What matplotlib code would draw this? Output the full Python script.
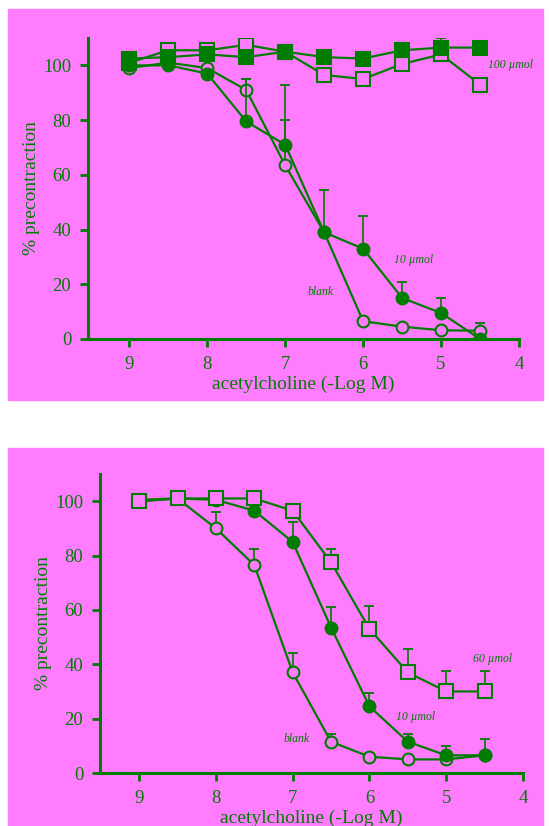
import numpy as np
import matplotlib
matplotlib.use("Agg")
import matplotlib.pyplot as plt
from matplotlib.patches import Rectangle

# acetylcholine concentration (-log M)
conc = [9, 8.5, 8, 7.5, 7, 6.5, 6, 5.5, 5, 4.5]

# top panel
top_blank = [99, 101, 99, 91, 63.5, 39, 6.5, 4.5, 3.2, 3]
top_blank_err = [0, 0, 0, 4, 16.5, 0, 0, 0, 0, 3]
top_10 = [100, 100, 97, 79.5, 71, 39, 33, 15, 9.5, 0]
top_10_err = [0, 0, 0, 15.5, 22, 15.5, 12, 6, 5.5, 0]
top_100_filled = [102.5, 103, 104, 103, 105, 103, 102.5, 105.5, 106.5, 106.5]
top_100_filled_err = [0, 0, 0, 0, 0, 0, 0, 0, 3.5, 0]
top_100_open = [101, 105.5, 105.5, 107.5, 105, 96.5, 95, 100.5, 104, 93]

# bottom panel
bot_blank = [100.5, 101, 90, 76.5, 37, 11.5, 6, 5, 5, 6.5]
bot_blank_err = [0, 0, 6, 6, 7, 3, 0, 0, 0, 0]
bot_10 = [100, 101, 100.5, 96.5, 85, 53.5, 24.5, 11.5, 6.5, 6.5]
bot_10_err = [0, 0, 0, 0, 7.5, 7.5, 5, 3, 3.5, 6]
bot_60 = [100, 101, 101, 101, 96.5, 77.5, 53, 37, 30, 30]
bot_60_err = [0, 0, 0, 0, 0, 5, 8.5, 8.5, 7.5, 7.5]

pink = '#ff7cff'
green = '#007d00'
W, H = 549, 826

plt.rcParams['font.family'] = ['Liberation Serif', 'DejaVu Serif']

fig = plt.figure(figsize=(W / 100, H / 100), dpi=100)
fig.patch.set_facecolor('white')

# pink backgrounds of the two panels
fig.patches.append(Rectangle((8 / W, (H - 400) / H), 535 / W, 391 / H,
                             transform=fig.transFigure, color=pink, zorder=-5))
fig.patches.append(Rectangle((8 / W, 0), 535 / W, 378 / H,
                             transform=fig.transFigure, color=pink, zorder=-5))


def make_axes(left, right, y0, ytop, xleft):
    ax = fig.add_axes([left / W, (H - y0) / H, (right - left) / W, (y0 - ytop) / H])
    ax.set_facecolor('none')
    ax.set_zorder(2)
    ax.set_xlim(xleft, 4)
    ax.set_ylim(0, 110)
    for s in ['top', 'right']:
        ax.spines[s].set_visible(False)
    for s in ['left', 'bottom']:
        ax.spines[s].set_color(green)
        ax.spines[s].set_linewidth(2.2)
    ax.set_xticks([9, 8, 7, 6, 5, 4])
    ax.set_yticks([0, 20, 40, 60, 80, 100])
    ax.tick_params(colors=green, direction='out', length=6, width=2,
                   labelsize=13.5, pad=6)
    ax.set_xlabel('acetylcholine (-Log M)', color=green, fontsize=14, labelpad=2)
    ax.set_ylabel('% precontraction', color=green, fontsize=14, labelpad=2)
    return ax


def series(ax, y, err, marker, face, ms):
    if err is not None:
        ax.errorbar(conc, y, yerr=[np.zeros(len(err)), err], fmt='none',
                    ecolor=green, elinewidth=1.2, capsize=3.5, capthick=1.3)
    ax.plot(conc, y, color=green, lw=1.6, marker=marker, ms=ms,
            mfc=face, mec=green, mew=1.5)


# top panel
ax1 = make_axes(88, 519, 339, 38, 9.53)
series(ax1, top_100_open, None, 's', pink, 9.5)
series(ax1, top_100_filled, top_100_filled_err, 's', green, 9.5)
series(ax1, top_blank, top_blank_err, 'o', pink, 8.5)
series(ax1, top_10, top_10_err, 'o', green, 8.5)
ax1.text(4.4, 100, '100 µmol', color=green, fontsize=8.5, style='italic', va='center')
ax1.text(5.35, 29, '10 µmol', color=green, fontsize=8.5, style='italic', ha='center', va='center')
ax1.text(6.55, 17, 'blank', color=green, fontsize=8.5, style='italic', ha='center', va='center')

# bottom panel
ax2 = make_axes(100, 523, 773, 474, 9.51)
series(ax2, bot_blank, bot_blank_err, 'o', pink, 8.5)
series(ax2, bot_10, bot_10_err, 'o', green, 8.5)
series(ax2, bot_60, bot_60_err, 's', pink, 9.5)
ax2.text(4.4, 42, '60 µmol', color=green, fontsize=8.5, style='italic', ha='center', va='center')
ax2.text(5.4, 20.5, '10 µmol', color=green, fontsize=8.5, style='italic', ha='center', va='center')
ax2.text(6.95, 12.5, 'blank', color=green, fontsize=8.5, style='italic', ha='center', va='center')

fig.savefig('out.png', dpi=100)
